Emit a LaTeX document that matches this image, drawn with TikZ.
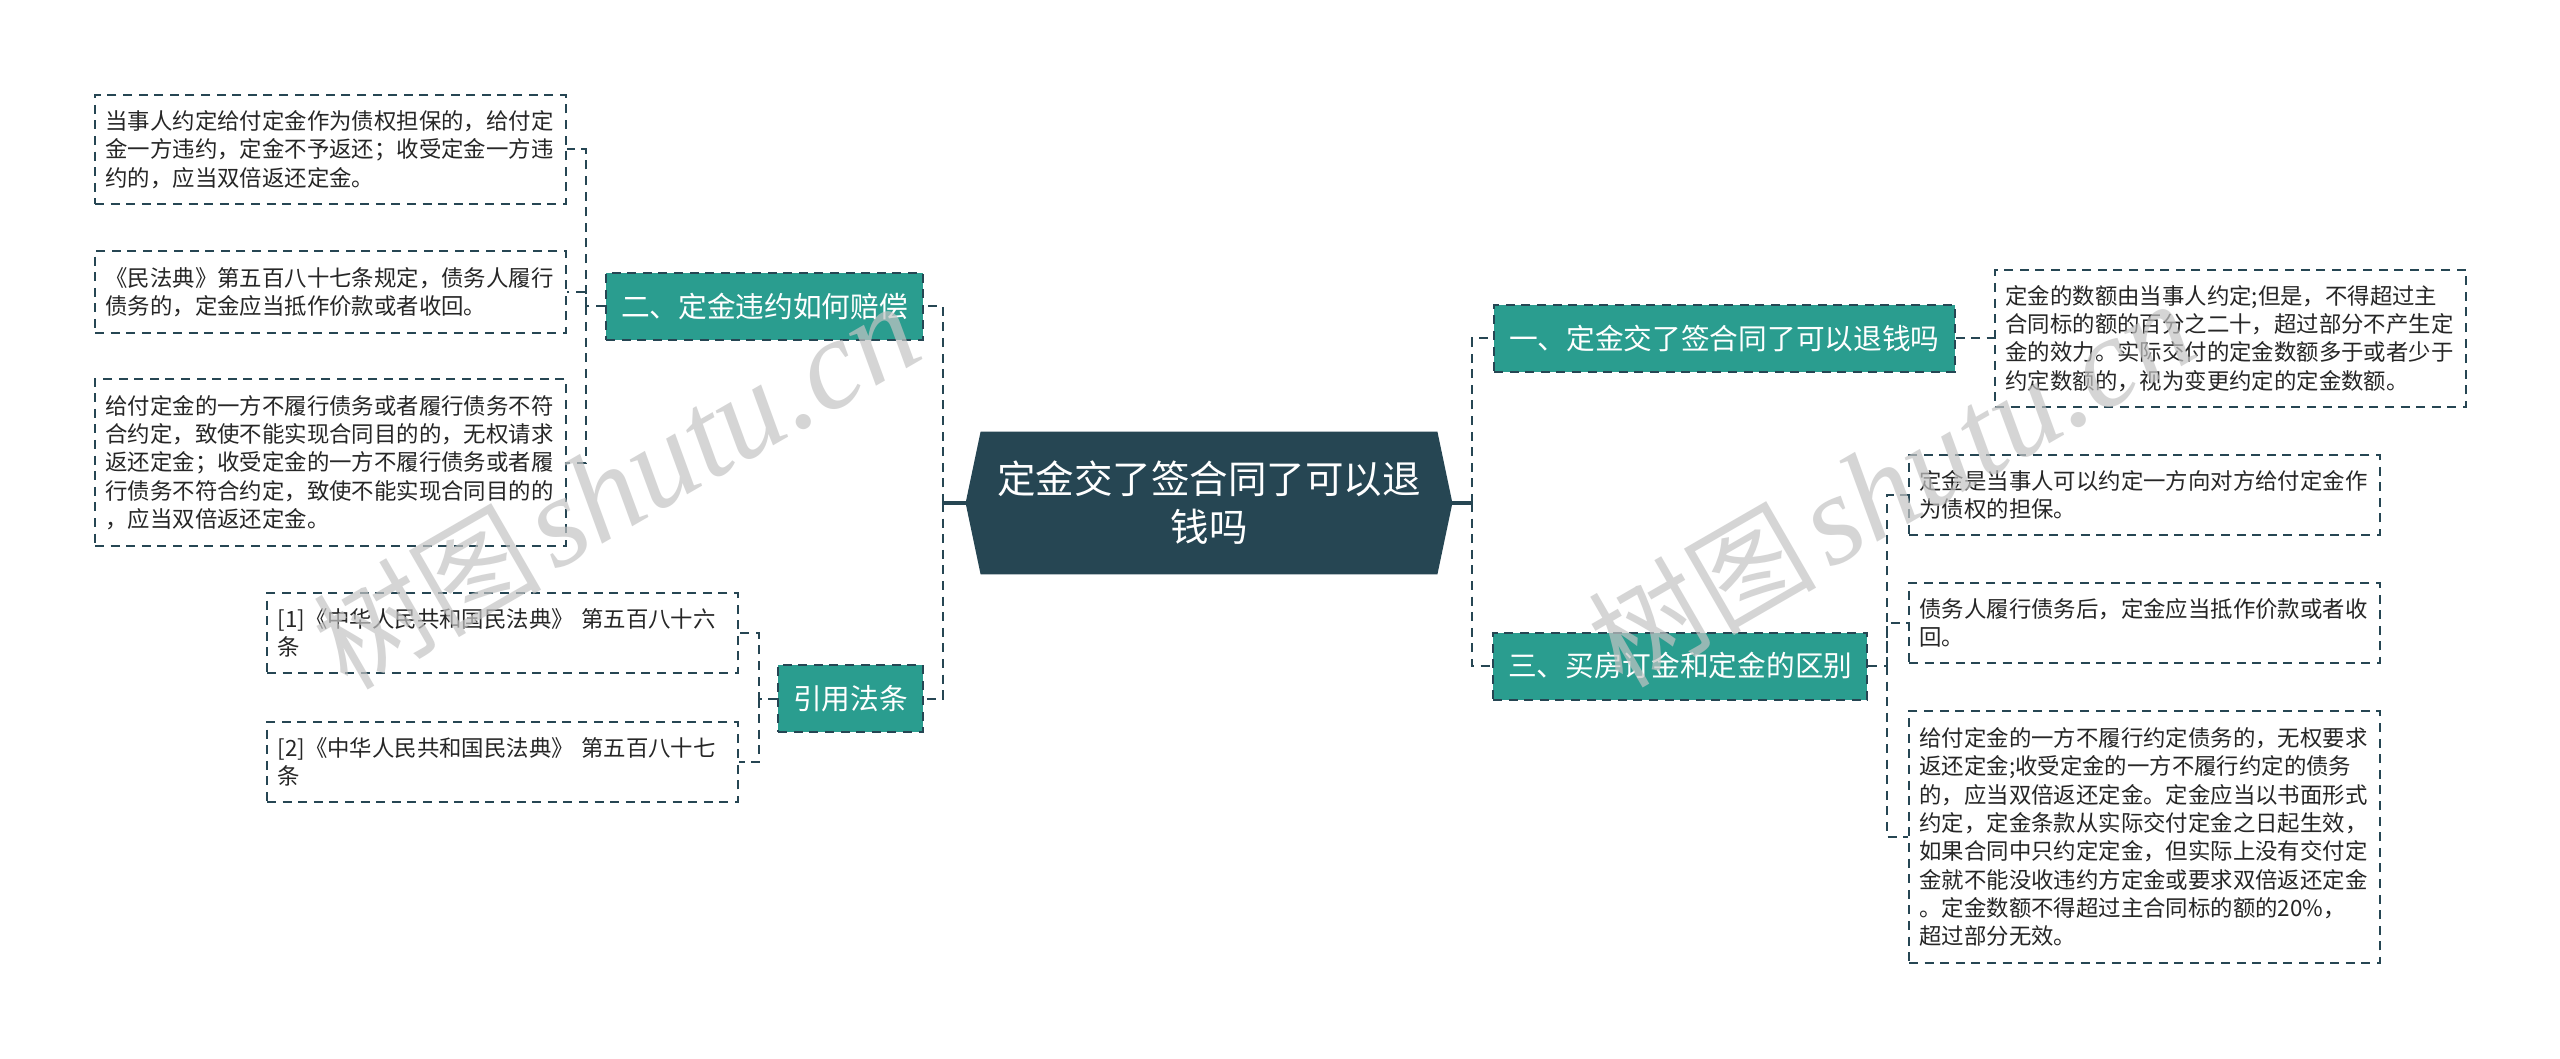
\documentclass[tikz,border=0pt]{standalone}
\usepackage{fontspec}
\setmainfont{Noto Sans CJK SC}
\newfontfamily\cjk{Noto Sans CJK SC}
\newfontfamily\wmfont{Liberation Serif}
\definecolor{dk}{HTML}{264653}
\definecolor{tl}{HTML}{2A9D8F}
\definecolor{tx}{HTML}{262626}
\definecolor{wmgray}{RGB}{196,196,196}
\pgfdeclarelayer{bg}
\pgfsetlayers{bg,main}
\tikzset{
  dashline/.style={dash pattern=on 4.5pt off 3.3pt},
  leaf/.style={draw=dk, line width=1pt, dashline, fill=white, text=tx,
    font=\fontsize{11.2pt}{14.17pt}\selectfont, align=left,
    text width=225pt, inner xsep=5.25pt, inner ysep=0pt, minimum width=235.5pt},
  tnode/.style={draw=dk, line width=1pt, dashline, fill=tl, text=white,
    font=\fontsize{14.35pt}{17pt}\selectfont, inner xsep=7.5pt, inner ysep=0pt,
    minimum height=33.5pt},
  cnode/.style={text=white, font=\fontsize{19.25pt}{24pt}\selectfont, align=center,
    minimum width=243pt, minimum height=71pt, inner sep=0pt},
  conn/.style={draw=dk, line width=1pt, dashline},
  stub/.style={draw=dk, line width=1.6pt},
  wm/.style={text=wmgray, text opacity=0.7, inner sep=0pt}
}
\begin{document}
\begin{tikzpicture}[x=0.5pt,y=-0.5pt]
\useasboundingbox (0,0) rectangle (2560,1059);
% central node
\node[cnode] (c) at (1209,503) {定金交了签合同了可以退\\钱吗};
\begin{pgfonlayer}{bg}
\fill[white] (0,0) rectangle (2560,1059);
\fill[dk] (c.west) -- ([xshift=7.5pt]c.north west) -- ([xshift=-7.5pt]c.north east) -- (c.east) -- ([xshift=-7.5pt]c.south east) -- ([xshift=7.5pt]c.south west) -- cycle;
\end{pgfonlayer}
% branch nodes
\node[tnode, anchor=east] (n2) at (924,306.5) {二、定金违约如何赔偿};
\node[tnode, anchor=east] (ny) at (924,698.5) {引用法条};
\node[tnode, anchor=west] (n1) at (1493,338.5) {一、定金交了签合同了可以退钱吗};
\node[tnode, anchor=west] (n3) at (1492,666) {三、买房订金和定金的区别};
% left leaves
\node[leaf, anchor=east, minimum height=54.5pt] (l1) at (567,149.5) {当事人约定给付定金作为债权担保的，给付定\\金一方违约，定金不予返还；收受定金一方违\\约的，应当双倍返还定金。};
\node[leaf, anchor=east, minimum height=41pt] (l2) at (567,292) {《民法典》第五百八十七条规定，债务人履行\\债务的，定金应当抵作价款或者收回。};
\node[leaf, anchor=east, minimum height=83.5pt] (l3) at (567,462.5) {给付定金的一方不履行债务或者履行债务不符\\合约定，致使不能实现合同目的的，无权请求\\返还定金；收受定金的一方不履行债务或者履\\行债务不符合约定，致使不能实现合同目的的\\，应当双倍返还定金。};
\node[leaf, anchor=east, minimum height=40pt] (f1) at (739,633) {[1]《中华人民共和国民法典》 第五百八十六\\条};
\node[leaf, anchor=east, minimum height=40pt] (f2) at (739,762) {[2]《中华人民共和国民法典》 第五百八十七\\条};
% right leaves
\node[leaf, anchor=west, minimum height=68.5pt] (r1) at (1994,338.5) {定金的数额由当事人约定;但是，不得超过主\\合同标的额的百分之二十，超过部分不产生定\\金的效力。实际交付的定金数额多于或者少于\\约定数额的，视为变更约定的定金数额。};
\node[leaf, anchor=west, minimum height=40pt] (r2) at (1908,495) {定金是当事人可以约定一方向对方给付定金作\\为债权的担保。};
\node[leaf, anchor=west, minimum height=40pt] (r3) at (1908,623) {债务人履行债务后，定金应当抵作价款或者收\\回。};
\node[leaf, anchor=west, minimum height=126pt] (r4) at (1908,837) {给付定金的一方不履行约定债务的，无权要求\\返还定金;收受定金的一方不履行约定的债务\\的，应当双倍返还定金。定金应当以书面形式\\约定，定金条款从实际交付定金之日起生效，\\如果合同中只约定定金，但实际上没有交付定\\金就不能没收违约方定金或要求双倍返还定金\\。定金数额不得超过主合同标的额的20\%，\\超过部分无效。};
% bus coordinates
\coordinate (bl) at (943,503);
\coordinate (br) at (1472,503);
\coordinate (b2) at (586,306.5);
\coordinate (by) at (759,698.5);
\coordinate (b3) at (1887,666);
% connectors
\draw[stub] (c.west) -- (bl);
\draw[conn] (bl) |- (n2.east);
\draw[conn] (bl) |- (ny.east);
\draw[stub] (c.east) -- (br);
\draw[conn] (br) |- (n1.west);
\draw[conn] (br) |- (n3.west);
\draw[conn] (n2.west) -- (b2) |- (l1.east);
\draw[conn] (b2) |- (l2.east);
\draw[conn] (b2) |- (l3.east);
\draw[conn] (ny.west) -- (by) |- (f1.east);
\draw[conn] (by) |- (f2.east);
\draw[conn] (n1.east) -- (r1.west);
\draw[conn] (n3.east) -- (b3) |- (r2.west);
\draw[conn] (b3) |- (r3.west);
\draw[conn] (b3) |- (r4.west);
% watermarks
\node[wm, anchor=base west, rotate=30] (w1) at (347,692) {{\cjk\fontsize{57pt}{57pt}\selectfont 树图}\hspace{6pt}{\wmfont\itshape\fontsize{64pt}{64pt}\selectfont shutu.cn}};
\node[wm, anchor=base west, rotate=30] (w2) at (1622,690) {{\cjk\fontsize{57pt}{57pt}\selectfont 树图}\hspace{6pt}{\wmfont\itshape\fontsize{64pt}{64pt}\selectfont shutu.cn}};
\end{tikzpicture}
\end{document}
